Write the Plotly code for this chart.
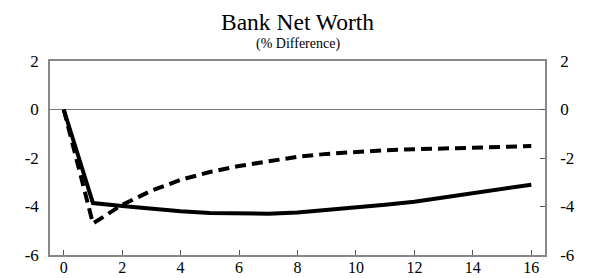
import plotly.graph_objects as go

quarters = list(range(0, 17))
solid_vals = [0.0, -3.86, -3.98, -4.1, -4.2, -4.27, -4.3, -4.3, -4.25, -4.15, -4.03, -3.93, -3.8, -3.63, -3.46, -3.28, -3.1]
dashed_vals = [0.0, -4.7, -3.93, -3.35, -2.9, -2.58, -2.33, -2.12, -1.95, -1.83, -1.74, -1.68, -1.64, -1.6, -1.56, -1.53, -1.51]
x_ticks = [0, 2, 4, 6, 8, 10, 12, 14, 16]
y_ticks = [2, 0, -2, -4, -6]
y_tick_text = ["2", "0", "-2", "-4", "-6"]
title_text = "Bank Net Worth"
subtitle_text = "(% Difference)"

font_family = "Liberation Serif, Times New Roman, serif"

fig = go.Figure()
fig.add_trace(go.Scatter(x=quarters, y=dashed_vals, mode="lines",
                         line=dict(color="black", width=4, dash="11px,6px"), showlegend=False))
fig.add_trace(go.Scatter(x=quarters, y=solid_vals, mode="lines",
                         line=dict(color="black", width=4), showlegend=False))
fig.add_trace(go.Scatter(x=[None], y=[None], yaxis="y2", showlegend=False))

# page body has an 8px default margin, so the figure is 8px smaller and margins compensate
fig.update_layout(
    width=583, height=270,
    margin=dict(l=42, r=46, t=53, b=23),
    paper_bgcolor="white", plot_bgcolor="white",
    font=dict(family=font_family, color="black", size=17),
    annotations=[
        dict(text=title_text, xref="paper", yref="paper", x=0.5, y=1.0, yshift=39,
             xanchor="center", yanchor="middle", showarrow=False,
             font=dict(size=23.5, family=font_family, color="black")),
        dict(text=subtitle_text, xref="paper", yref="paper", x=0.5, y=1.0, yshift=17,
             xanchor="center", yanchor="middle", showarrow=False,
             font=dict(size=14, family=font_family, color="black")),
    ],
    xaxis=dict(range=[-0.47, 16.47], tickvals=x_ticks, ticks="inside", ticklen=5,
               tickcolor="#555", showgrid=False, zeroline=False, showline=True,
               linecolor="#888", linewidth=1.5, mirror=True, tickfont=dict(size=16),
               ticklabelstandoff=-3, automargin=False),
    yaxis=dict(range=[-6, 2], tickvals=y_ticks, ticktext=y_tick_text, ticks="", showgrid=False,
               zeroline=True, zerolinecolor="#777", zerolinewidth=1,
               showline=True, linecolor="#888", linewidth=1.5, tickfont=dict(size=17),
               ticklabelstandoff=6, automargin=False),
    yaxis2=dict(range=[-6, 2], tickvals=y_ticks, ticktext=y_tick_text, overlaying="y", side="right",
                ticks="inside", ticklen=5, tickcolor="#555", showgrid=False,
                zeroline=False, showline=True, linecolor="#888", linewidth=1.5,
                tickfont=dict(size=17), ticklabelstandoff=10, automargin=False),
)

fig.write_html("out.html")
